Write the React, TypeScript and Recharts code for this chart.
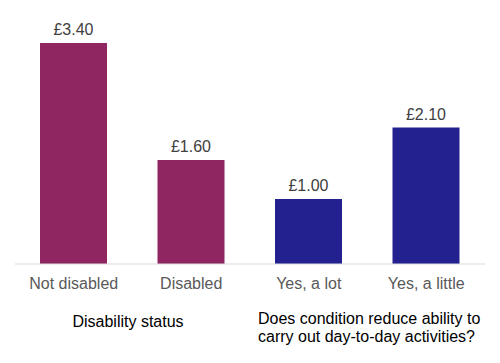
import { BarChart, Bar, XAxis, YAxis, Cell, LabelList } from 'recharts';

const categories = ['Not disabled', 'Disabled', 'Yes, a lot', 'Yes, a little'];
const values = [3.4, 1.6, 1.0, 2.1];
const barColors = ['#8f2662', '#8f2662', '#23218f', '#23218f'];
const groupLabels = ['Disability status', 'Does condition reduce ability to carry out day-to-day activities?'];

const data = categories.map((name, i) => ({ name, value: values[i] }));

const font = 'Arial, "Liberation Sans", sans-serif';

export default function App() {
  return (
    <div style={{ position: 'absolute', left: 0, top: 0, width: 500, height: 363, fontFamily: font }}>
      <BarChart
        width={500}
        height={363}
        data={data}
        margin={{ top: 4, right: 15, bottom: 0, left: 15 }}
      >
        <XAxis
          dataKey="name"
          height={99}
          tickLine={false}
          tickSize={0}
          tickMargin={14}
          axisLine={{ stroke: '#d9d9d9' }}
          tick={{ fontSize: 16, fill: '#595959', fontFamily: font }}
          interval={0}
        />
        <YAxis hide domain={[0, 4]} />
        <Bar dataKey="value" barSize={67} isAnimationActive={false}>
          {data.map((d, i) => (
            <Cell key={d.name} fill={barColors[i]} />
          ))}
          <LabelList
            dataKey="value"
            position="top"
            offset={8}
            formatter={(v: number) => `£${Number(v).toFixed(2)}`}
            style={{ fontSize: 16, fill: '#404040', fontFamily: font }}
          />
        </Bar>
      </BarChart>
      <div
        style={{
          position: 'absolute',
          left: 28,
          width: 200,
          top: 313,
          textAlign: 'center',
          fontSize: 16,
          lineHeight: '18px',
          color: '#000',
        }}
      >
        {groupLabels[0]}
      </div>
      <div
        style={{
          position: 'absolute',
          left: 258,
          width: 235,
          top: 310,
          textAlign: 'left',
          fontSize: 16,
          lineHeight: '18px',
          color: '#000',
        }}
      >
        {groupLabels[1]}
      </div>
    </div>
  );
}
